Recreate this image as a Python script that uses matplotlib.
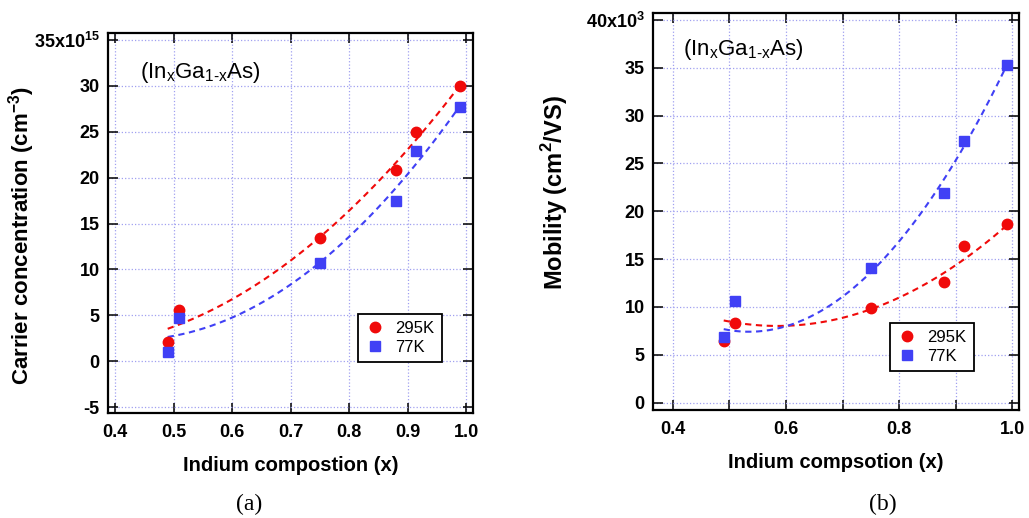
import numpy as np
import matplotlib
matplotlib.use('Agg')
import matplotlib.pyplot as plt

plt.rcParams['font.family'] = ['Liberation Sans', 'DejaVu Sans']
plt.rcParams['mathtext.fontset'] = 'custom'
plt.rcParams['mathtext.rm'] = 'Liberation Sans'
plt.rcParams['mathtext.bf'] = 'Liberation Sans:bold'

# indium fraction of the samples
x_in = [0.49, 0.51, 0.75, 0.88, 0.915, 0.99]

# (a) carrier concentration, 1e15 cm^-3
conc_295 = [2.1, 5.6, 13.4, 20.8, 25.0, 30.0]
conc_77 = [1.0, 4.7, 10.7, 17.5, 22.9, 27.7]

# (b) mobility, 1e3 cm^2/Vs
mob_295 = [6.4, 8.3, 9.9, 12.6, 16.4, 18.7]
mob_77 = [6.9, 10.6, 14.1, 21.9, 27.3, 35.3]

fit_x_b = [0.49, 0.55, 0.6, 0.7, 0.75, 0.8, 0.88, 0.915, 0.99]
fit_295_b = [8.5, 8.1, 8.1, 9.0, 9.8, 11.0, 13.3, 14.9, 18.7]
fit_77_b = [7.7, 7.4, 8.0, 11.0, 13.8, 16.8, 23.2, 27.0, 35.2]

RED = '#f00a0a'
BLUE = '#4040f5'
GRID = '#a0a0f0'

fig = plt.figure(figsize=(10.29, 5.18), dpi=100)
ax1 = fig.add_axes([0.105, 0.2027, 0.3547, 0.7336])
ax2 = fig.add_axes([0.6346, 0.2085, 0.3557, 0.7664])


def fit_line(ax, xs, ys, c):
    xx = np.linspace(min(xs), max(xs), 200)
    p = np.polyfit(xs, ys, 2)
    ax.plot(xx, np.polyval(p, xx), '--', color=c, lw=1.5, dashes=(3, 2.2))


def draw_panel(ax, y295, y77, xticks, xlabels, yticks, ylabels, xlim, ylim,
               txt_pos, leg_pos):
    ax.plot(x_in, y295, 'o', color=RED, ms=7.5, label='295K', zorder=3)
    ax.plot(x_in, y77, 's', color=BLUE, ms=7, label='77K', zorder=3)

    ax.set_xlim(*xlim)
    ax.set_ylim(*ylim)
    ax.set_xticks(xticks, xlabels)
    ax.set_yticks(yticks, ylabels)
    ax.set_xticks(np.arange(0.4, 1.001, 0.1), minor=True)
    ax.grid(True, which='both', axis='x', color=GRID, ls=':', lw=0.9)
    ax.grid(True, which='major', axis='y', color=GRID, ls=':', lw=0.9)
    ax.tick_params(which='both', direction='in', length=7, width=1.1,
                   top=True, right=True, labelsize=13)
    ax.tick_params(axis='x', pad=8)
    ax.tick_params(axis='y', pad=6)
    for lab in ax.get_xticklabels() + ax.get_yticklabels():
        lab.set_fontweight('bold')
    for s in ax.spines.values():
        s.set_linewidth(1.6)
    ax.text(txt_pos[0], txt_pos[1], r'(In$_\mathregular{x}$Ga$_\mathregular{1\text{-}x}$As)',
            transform=ax.transAxes, fontsize=16, va='center')
    leg = ax.legend(loc='lower right', bbox_to_anchor=leg_pos, fontsize=12,
                    fancybox=False, edgecolor='black', framealpha=1,
                    handletextpad=0.6, borderpad=0.45, handlelength=1.2,
                    labelspacing=0.2, borderaxespad=0)
    leg.get_frame().set_linewidth(1.3)


# (a)
yt_a = [-5, 0, 5, 10, 15, 20, 25, 30, 35]
yl_a = ['-5', '0', '5', '10', '15', '20', '25', '30', r'35x10$^{\mathbf{15}}$']
xt_a = [0.4, 0.5, 0.6, 0.7, 0.8, 0.9, 1.0]
xl_a = ['0.4', '0.5', '0.6', '0.7', '0.8', '0.9', '1.0']
fit_line(ax1, x_in, conc_295, RED)
fit_line(ax1, x_in, conc_77, BLUE)
draw_panel(ax1, conc_295, conc_77, xt_a, xl_a, yt_a, yl_a,
           (0.388, 1.012), (-5.65, 35.76), (0.088, 0.895), (0.915, 0.134))
ax1.set_xlabel('Indium compostion (x)', fontsize=14.5, fontweight='bold', labelpad=11)
ax1.set_ylabel(r'Carrier concentration (cm$^{\mathbf{-3}}$)', fontsize=16,
               fontweight='bold')
ax1.yaxis.set_label_coords(-0.196, 0.466)

# (b)
yt_b = [0, 5, 10, 15, 20, 25, 30, 35, 40]
yl_b = ['0', '5', '10', '15', '20', '25', '30', '35', r'40x10$^{\mathbf{3}}$']
xt_b = [0.4, 0.6, 0.8, 1.0]
xl_b = ['0.4', '0.6', '0.8', '1.0']
fit_line(ax2, fit_x_b, fit_295_b, RED)
fit_line(ax2, fit_x_b, fit_77_b, BLUE)
draw_panel(ax2, mob_295, mob_77, xt_b, xl_b, yt_b, yl_b,
           (0.365, 1.012), (-0.77, 40.73), (0.082, 0.907), (0.877, 0.098))
ax2.set_xlabel('Indium compsotion (x)', fontsize=14.5, fontweight='bold', labelpad=11)
ax2.set_ylabel(r'Mobility (cm$^{\mathbf{2}}$/VS)', fontsize=17,
               fontweight='bold')
ax2.yaxis.set_label_coords(-0.228, 0.548)

fig.text(0.242, 0.026, '(a)', family='Liberation Serif', fontsize=17,
         ha='center', va='center')
fig.text(0.858, 0.026, '(b)', family='Liberation Serif', fontsize=17,
         ha='center', va='center')

fig.savefig('out.png', dpi=100)
